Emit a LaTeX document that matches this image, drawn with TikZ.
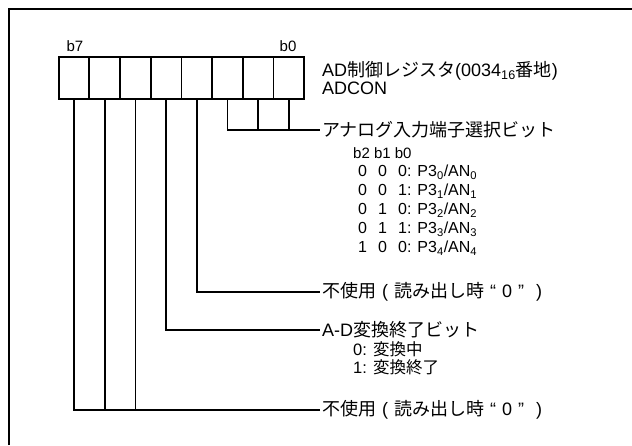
\documentclass[tikz,border=0pt]{standalone}
\usepackage{fontspec}
\setmainfont{Liberation Sans}
\newfontfamily\jpfont{Noto Sans CJK JP}
\usepackage{tikz}
\usetikzlibrary{positioning}
\newcommand{\jp}[1]{{\jpfont #1}}
\newcommand{\fw}[1]{\makebox[1em]{#1}}
\newcommand{\selrow}[4]{\makebox[20pt][l]{#1}\makebox[20pt][l]{#2}#3: P3\textsubscript{#4}/AN\textsubscript{#4}}

\begin{document}
\begin{tikzpicture}[
    x=1pt, y=-1pt,
    every node/.style={font=\fontsize{18}{18}\selectfont},
    bitbox/.style={rectangle, draw=black, line width=1.8pt, outer sep=0pt,
                   minimum width=30.7pt, minimum height=42pt},
    bitlbl/.style={font=\fontsize{15}{15}\selectfont, inner sep=0pt},
    lbl/.style={anchor=west, inner xsep=2pt, inner ysep=0pt, align=left},
    rowtxt/.style={anchor=west, inner sep=0pt, font=\fontsize{16}{16}\selectfont},
    wire/.style={line width=1.8pt}
]
\useasboundingbox (0,0) rectangle (632,445);

% Frame
\draw[line width=2.4pt] (9,445) -- (9,9) -- (632,9);

% Register bits
\node[bitbox] (b7) at (74,78) {};
\node[bitbox, right=0pt of b7] (b6) {};
\node[bitbox, right=0pt of b6] (b5) {};
\node[bitbox, right=0pt of b5] (b4) {};
\node[bitbox, right=0pt of b4] (b3) {};
\node[bitbox, right=0pt of b3] (b2) {};
\node[bitbox, right=0pt of b2] (b1) {};
\node[bitbox, right=0pt of b1] (b0) {};
\node[bitlbl] (lb7) at (75,46) {b7};
\node[bitlbl] (lb0) at (288,46) {b0};

\node[lbl] (reg) at (320,78) {AD\jp{制御レジスタ}(0034\textsubscript{16}\jp{番地})\\ADCON};

% Analog input select
\node[lbl] (sel) at (320,130) {\jp{アナログ入力端子選択ビット}};
\node[rowtxt, font=\fontsize{15}{15}\selectfont] (selhd) at (353,153) {b2 b1 b0};
\node[rowtxt] (sel0) at (358,172) {\selrow{0}{0}{0}{0}};
\node[rowtxt] (sel1) at (358,191) {\selrow{0}{0}{1}{1}};
\node[rowtxt] (sel2) at (358,210) {\selrow{0}{1}{0}{2}};
\node[rowtxt] (sel3) at (358,229) {\selrow{0}{1}{1}{3}};
\node[rowtxt] (sel4) at (358,248) {\selrow{1}{0}{0}{4}};

% Other bits
\node[lbl] (unusedA) at (320,292) {\jp{不使用}\fw{(}\jp{読み出し時}\fw{“}0\fw{”}\fw{)}};
\node[lbl] (adend) at (320,330) {A-D\jp{変換終了ビット}};
\node[rowtxt, font=\fontsize{16.5}{16.5}\selectfont] (adend0) at (353,349) {0: \jp{変換中}};
\node[rowtxt, font=\fontsize{16.5}{16.5}\selectfont] (adend1) at (353,367) {1: \jp{変換終了}};
\node[lbl] (unusedB) at (320,410) {\jp{不使用}\fw{(}\jp{読み出し時}\fw{“}0\fw{”}\fw{)}};

% Wires
\draw[wire] (b2.south) |- (sel.west);
\draw[wire] (b1.south) -- (b1.south |- sel.west);
\draw[wire] (b0.south) -- (b0.south |- sel.west);
\draw[wire] (b3.south) |- (unusedA.west);
\draw[wire] (b4.south) |- (adend.west);
\draw[wire] (b7.south) |- (unusedB.west);
\draw[wire] (b6.south) -- (b6.south |- unusedB.west);
\draw[wire] (b5.south) -- (b5.south |- unusedB.west);

\end{tikzpicture}
\end{document}
